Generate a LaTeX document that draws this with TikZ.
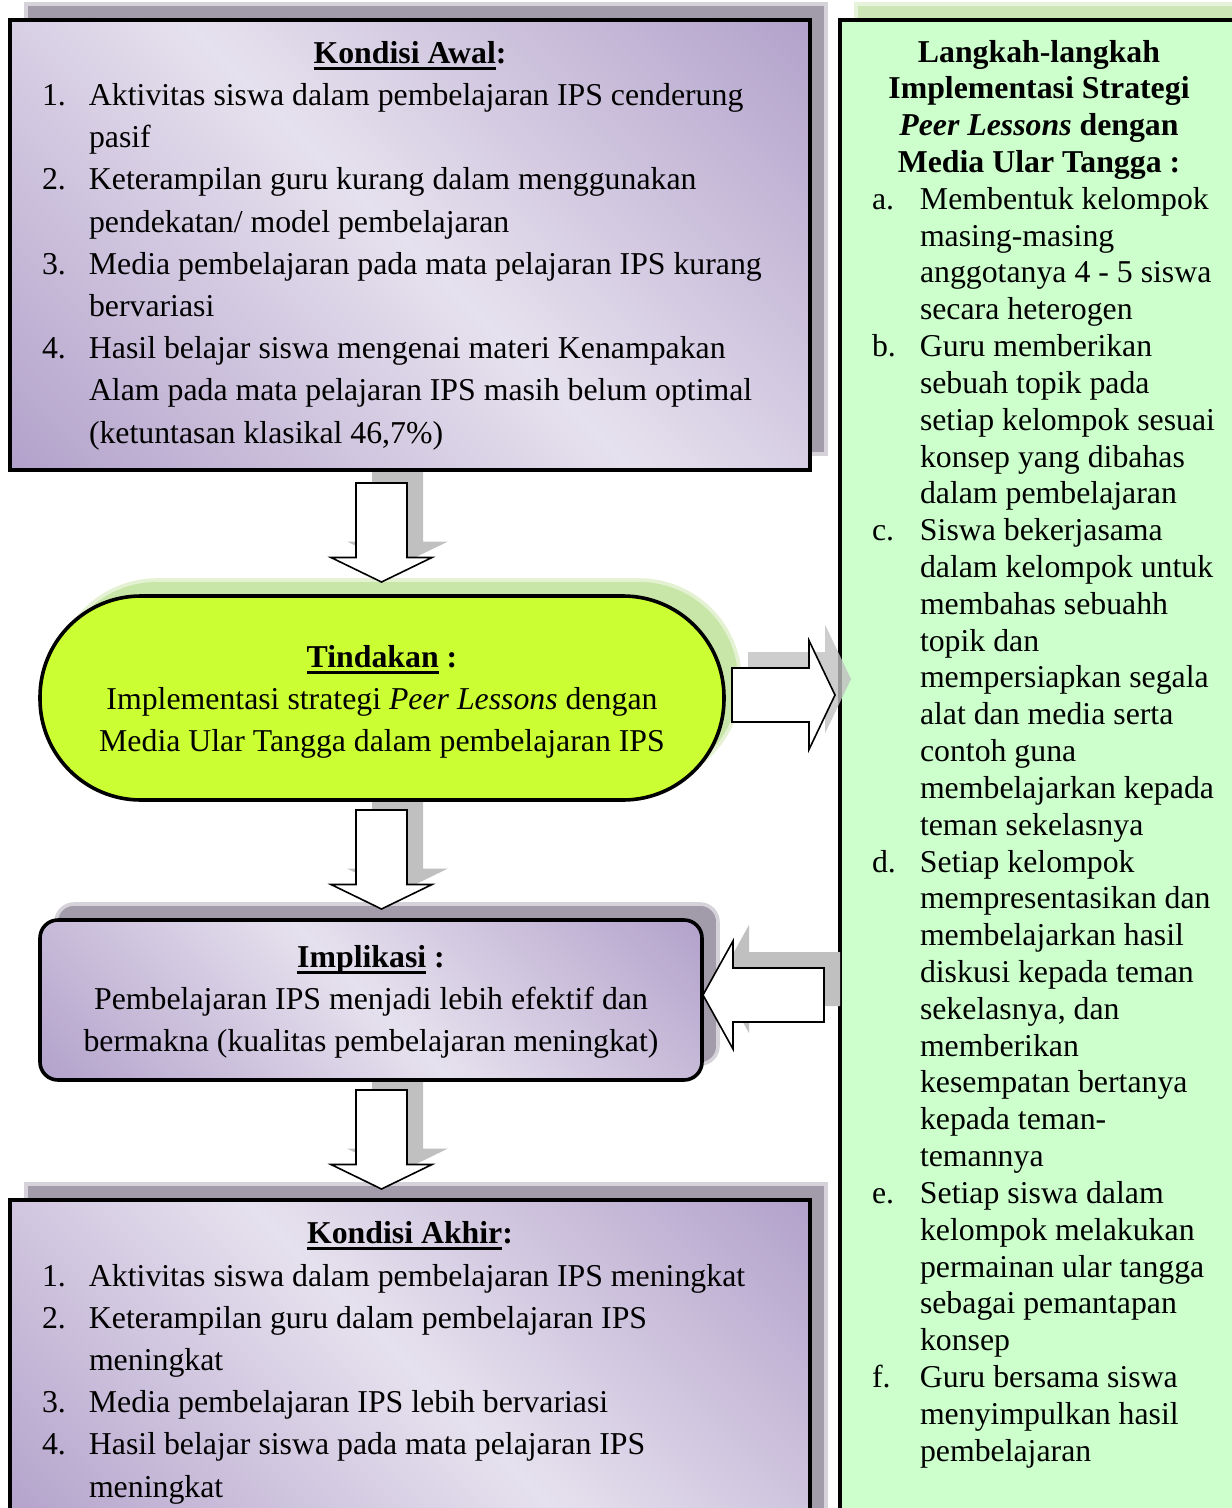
\documentclass[tikz,border=0pt]{standalone}
\usepackage{fontspec}
\setmainfont{Liberation Serif}
\usepackage{array}
\usetikzlibrary{shadows}
\definecolor{pdark}{HTML}{B3A2CB}
\definecolor{plight}{HTML}{E6E1EE}
\definecolor{pshadow}{HTML}{A29BAA}
\definecolor{lime}{HTML}{CCFF33}
\definecolor{limeshadow}{HTML}{C8E6A8}
\definecolor{mint}{HTML}{CCFFCC}
\definecolor{mintshadow}{HTML}{CDE6B6}
\definecolor{arrshadow}{HTML}{C0C0C0}
\pgfdeclarehorizontalshading{purpdiag}{100bp}{color(0bp)=(pdark); color(15bp)=(pdark); color(50bp)=(plight); color(85bp)=(pdark); color(100bp)=(pdark)}
\newcommand\ulx[1]{\setbox0\hbox{#1}\rlap{\rule[-6.5pt]{\wd0}{2.2pt}}\box0\relax}
\newcommand\downarr[1]{(#1) ++(-25.5,0) -- ++(51,0) -- ++(0,74.5) -- ++(25,0) -- ++(-50.5,24.5) -- ++(-50.5,-24.5) -- ++(25,0) -- cycle}
\newcommand\rightarr[1]{(#1) -- ++(77,0) -- ++(0,-27.5) -- ++(26,54.5) -- ++(-26,54.5) -- ++(0,-27.5) -- ++(-77,0) -- cycle}
\newcommand\leftarr[1]{(#1) -- ++(-91,0) -- ++(0,-27) -- ++(-30,54) -- ++(30,54) -- ++(0,-27) -- ++(91,0) -- cycle}
\begin{document}
\begin{tikzpicture}[x=1pt,y=-1pt,line join=miter,
  box/.style={draw=black, line width=3.6pt, inner sep=0pt, outer sep=0pt, anchor=north west},
  purp/.style={box, shade, shading=purpdiag, shading angle=45,
    general shadow={fill=pshadow, draw=white!55!pshadow, shadow xshift=16pt, shadow yshift=16pt}},
  blockarr/.style={draw=black, fill=white, line width=1.6pt},
  arrsh/.style={fill=arrshadow, draw=none},
  body/.style={font=\fontsize{31.8}{42.2}\selectfont, inner sep=0pt, outer sep=0pt},
  rbody/.style={font=\fontsize{31.8}{36.82}\selectfont, inner sep=0pt, outer sep=0pt}]
\useasboundingbox (0,0) rectangle (1232,1508);
\clip (0,0) rectangle (1232,1508);
% right box
\node[box, fill=mint, minimum width=420, minimum height=1530,
  general shadow={fill=mintshadow, draw=white!50!mintshadow, shadow xshift=16pt, shadow yshift=16pt}] (langkah) at (840,20) {};
% arrow anchor coordinates
\coordinate (a1) at (381.5,483);
\coordinate (a2) at (381.5,810);
\coordinate (a3) at (381.5,1090);
\coordinate (ar) at (732,668);
\coordinate (al) at (824,968);
% arrow shadows (behind boxes)
\fill[arrsh] \downarr{[shift={(16,-16)}]a1};
\fill[arrsh] \downarr{[shift={(16,-16)}]a2};
\fill[arrsh] \downarr{[shift={(16,-16)}]a3};
\fill[arrsh] \leftarr{[shift={(16,-16)}]al};
% left column boxes
\node[purp, minimum width=800, minimum height=450] (awal) at (10,20) {};
\node[box, fill=lime, rounded corners=101pt, minimum width=684, minimum height=204,
  general shadow={fill=limeshadow, draw=white!50!limeshadow, shadow xshift=16pt, shadow yshift=16pt}] (tind) at (40,596) {};
\node[purp, rounded corners=18pt, minimum width=662, minimum height=160] (impl) at (40,920) {};
\node[purp, minimum width=800, minimum height=330] (akhir) at (10,1200) {};
% right arrow shadow over the right box
\fill[arrsh, opacity=0.8] \rightarr{[shift={(16,-16)}]ar};
% block arrows
\draw[blockarr] \downarr{a1};
\draw[blockarr] \downarr{a2};
\draw[blockarr] \downarr{a3};
\draw[blockarr] \rightarr{ar};
\draw[blockarr] \leftarr{al};
% texts
\node[body, anchor=base] (awaltitle) at (410,63) {\textbf{\ulx{Kondisi Awal}:}};
\node[body, anchor=base west] (awaltxt) at (42,105.5) {\begin{tabular}[t]{@{}p{47pt}@{}l@{}}
1. & Aktivitas siswa dalam pembelajaran IPS cenderung\\
   & pasif\\
2. & Keterampilan guru kurang dalam menggunakan\\
   & pendekatan/ model pembelajaran\\
3. & Media pembelajaran pada mata pelajaran IPS kurang\\
   & bervariasi\\
4. & Hasil belajar siswa mengenai materi Kenampakan\\
   & Alam pada mata pelajaran IPS masih belum optimal\\
   & (ketuntasan klasikal 46,7\%)
\end{tabular}};
\node[body, anchor=base] (tindtxt) at (382,667) {\begin{tabular}[t]{@{}c@{}}
\textbf{\ulx{Tindakan} :}\\
Implementasi strategi \textit{Peer Lessons} dengan\\
Media Ular Tangga dalam pembelajaran IPS
\end{tabular}};
\node[body, anchor=base] (impltxt) at (371,967) {\begin{tabular}[t]{@{}c@{}}
\textbf{\ulx{Implikasi} :}\\
Pembelajaran IPS menjadi lebih efektif dan\\
bermakna (kualitas pembelajaran meningkat)
\end{tabular}};
\node[body, anchor=base] (akhirtitle) at (410,1243) {\textbf{\ulx{Kondisi Akhir}:}};
\node[body, anchor=base west] (akhirtxt) at (42,1286) {\begin{tabular}[t]{@{}p{47pt}@{}l@{}}
1. & Aktivitas siswa dalam pembelajaran IPS meningkat\\
2. & Keterampilan guru dalam pembelajaran IPS\\
   & meningkat\\
3. & Media pembelajaran IPS lebih bervariasi\\
4. & Hasil belajar siswa pada mata pelajaran IPS\\
   & meningkat
\end{tabular}};
\node[rbody, anchor=base] (ltitle) at (1039,62) {\begin{tabular}[t]{@{}c@{}}
\textbf{Langkah-langkah}\\
\textbf{Implementasi Strategi}\\
\textbf{\textit{Peer Lessons} dengan}\\
\textbf{Media Ular Tangga :}
\end{tabular}};
\node[rbody, anchor=base west] (ltxt) at (872,209.3) {\begin{tabular}[t]{@{}p{48pt}@{}l@{}}
a. & Membentuk kelompok\\
   & masing-masing\\
   & anggotanya 4 - 5 siswa\\
   & secara heterogen\\
b. & Guru memberikan\\
   & sebuah topik pada\\
   & setiap kelompok sesuai\\
   & konsep yang dibahas\\
   & dalam pembelajaran\\
c. & Siswa bekerjasama\\
   & dalam kelompok untuk\\
   & membahas sebuahh\\
   & topik dan\\
   & mempersiapkan segala\\
   & alat dan media serta\\
   & contoh guna\\
   & membelajarkan kepada\\
   & teman sekelasnya\\
d. & Setiap kelompok\\
   & mempresentasikan dan\\
   & membelajarkan hasil\\
   & diskusi kepada teman\\
   & sekelasnya, dan\\
   & memberikan\\
   & kesempatan bertanya\\
   & kepada teman-\\
   & temannya\\
e. & Setiap siswa dalam\\
   & kelompok melakukan\\
   & permainan ular tangga\\
   & sebagai pemantapan\\
   & konsep\\
f. & Guru bersama siswa\\
   & menyimpulkan hasil\\
   & pembelajaran
\end{tabular}};
\end{tikzpicture}
\end{document}
